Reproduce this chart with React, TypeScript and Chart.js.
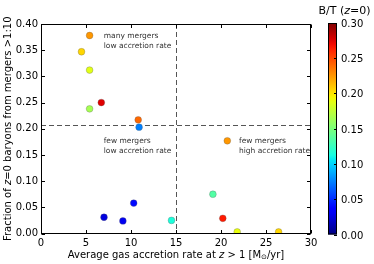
import { useEffect, useRef } from "react";
import { Chart, registerables } from "chart.js";

Chart.register(...registerables);

// ---- data ----
const accretionRate = [5.4, 4.5, 5.4, 6.7, 5.4, 10.8, 10.9, 7.0, 9.1, 10.3, 14.5, 20.7, 19.1, 20.2, 21.8, 26.4];
const mergerFraction = [0.378, 0.347, 0.312, 0.25, 0.238, 0.217, 0.203, 0.031, 0.024, 0.058, 0.025, 0.177, 0.075, 0.029, 0.003, 0.003];
const bulgeToTotal = [0.225, 0.205, 0.187, 0.275, 0.165, 0.24, 0.075, 0.025, 0.03, 0.04, 0.115, 0.225, 0.135, 0.265, 0.19, 0.205];

const xTicks = [0, 5, 10, 15, 20, 25, 30];
const yTicks = [0, 0.05, 0.1, 0.15, 0.2, 0.25, 0.3, 0.35, 0.4];
const cbarTicks = [0, 0.05, 0.1, 0.15, 0.2, 0.25, 0.3];
const cbarMax = 0.3;
const splitAccretion = 15;
const splitMerger = 0.207;

const annotationX = [6.97, 6.97, 22.0];
const annotationY = [0.377, 0.176, 0.176];
const annotationLines = [
  ["many mergers", "low accretion rate"],
  ["few mergers", "low accretion rate"],
  ["few mergers", "high accretion rate"],
];

// ---- jet colormap ----
const JR = [[0, 0], [0.35, 0], [0.66, 1], [0.89, 1], [1, 0.5]];
const JG = [[0, 0], [0.125, 0], [0.375, 1], [0.64, 1], [0.91, 0], [1, 0]];
const JB = [[0, 0.5], [0.11, 1], [0.34, 1], [0.65, 0], [1, 0]];
function interp(pts: number[][], t: number) {
  for (let i = 1; i < pts.length; i++) {
    if (t <= pts[i][0]) {
      const [x0, y0] = pts[i - 1];
      const [x1, y1] = pts[i];
      return y0 + ((t - x0) / (x1 - x0)) * (y1 - y0);
    }
  }
  return pts[pts.length - 1][1];
}
function jet(t: number) {
  const c = Math.max(0, Math.min(1, t));
  const r = Math.round(255 * interp(JR, c));
  const g = Math.round(255 * interp(JG, c));
  const b = Math.round(255 * interp(JB, c));
  return `rgb(${r},${g},${b})`;
}

const FONT = "'DejaVu Sans', sans-serif";

type Part = { t: string; italic?: boolean; sub?: boolean };
function drawRich(ctx: CanvasRenderingContext2D, parts: Part[], size: number, x: number, y: number) {
  const fontOf = (p: Part) => `${p.italic ? "italic " : ""}${p.sub ? size * 0.7 : size}px ${FONT}`;
  let total = 0;
  const widths = parts.map((p) => {
    ctx.font = fontOf(p);
    const w = ctx.measureText(p.t).width;
    total += w;
    return w;
  });
  let cx = x - total / 2;
  ctx.textAlign = "left";
  ctx.textBaseline = "middle";
  parts.forEach((p, i) => {
    ctx.font = fontOf(p);
    ctx.fillText(p.t, cx, p.sub ? y + size * 0.25 : y);
    cx += widths[i];
  });
}

const decorPlugin = {
  id: "decor",
  beforeDatasetsDraw(chart: any) {
    const { ctx, chartArea: a, scales } = chart;
    const xs = scales.x, ys = scales.y;
    ctx.save();
    ctx.strokeStyle = "#555";
    ctx.lineWidth = 1;
    ctx.setLineDash([5, 3]);
    const vx = Math.round(xs.getPixelForValue(splitAccretion)) + 0.5;
    const hy = Math.round(ys.getPixelForValue(splitMerger)) + 0.5;
    ctx.beginPath();
    ctx.moveTo(vx, a.top);
    ctx.lineTo(vx, a.bottom);
    ctx.moveTo(a.left, hy);
    ctx.lineTo(a.right, hy);
    ctx.stroke();
    ctx.setLineDash([]);
    // annotations
    ctx.fillStyle = "#333";
    ctx.font = `7.5px ${FONT}`;
    ctx.textAlign = "left";
    ctx.textBaseline = "middle";
    annotationLines.forEach((lines, i) => {
      const px = xs.getPixelForValue(annotationX[i]);
      const py = ys.getPixelForValue(annotationY[i]);
      lines.forEach((l, j) => ctx.fillText(l, px, py + j * 10));
    });
    ctx.restore();
  },
  afterDraw(chart: any) {
    const { ctx, chartArea: a, scales } = chart;
    const xs = scales.x, ys = scales.y;
    const L = Math.round(a.left) + 0.5, R = Math.round(a.right) - 0.5;
    const T = Math.round(a.top) + 0.5, B = Math.round(a.bottom) - 0.5;
    ctx.save();
    ctx.strokeStyle = "#000";
    ctx.lineWidth = 1;
    ctx.strokeRect(L, T, R - L, B - T);
    const tl = 3.5;
    ctx.beginPath();
    xTicks.forEach((v) => {
      const px = Math.round(xs.getPixelForValue(v)) + 0.5;
      ctx.moveTo(px, B); ctx.lineTo(px, B - tl);
      ctx.moveTo(px, T); ctx.lineTo(px, T + tl);
    });
    yTicks.forEach((v) => {
      const py = Math.round(ys.getPixelForValue(v)) + 0.5;
      ctx.moveTo(L, py); ctx.lineTo(L + tl, py);
      ctx.moveTo(R, py); ctx.lineTo(R - tl, py);
    });
    ctx.stroke();

    // axis titles
    ctx.fillStyle = "#000";
    drawRich(ctx, [
      { t: "Average gas accretion rate at " },
      { t: "z", italic: true },
      { t: " > 1 [M" },
      { t: "⊙", sub: true },
      { t: "/yr]" },
    ], 10, (a.left + a.right) / 2, 255);
    ctx.save();
    ctx.translate(8, (a.top + a.bottom) / 2);
    ctx.rotate(-Math.PI / 2);
    drawRich(ctx, [
      { t: "Fraction of " },
      { t: "z", italic: true },
      { t: "=0 baryons from mergers >1:10" },
    ], 10, 0, 0);
    ctx.restore();

    // colorbar
    const cx0 = 328, cx1 = 337;
    const cT = a.top - 1, cB = a.bottom + 1;
    const grad = ctx.createLinearGradient(0, cB, 0, cT);
    for (let i = 0; i <= 40; i++) grad.addColorStop(i / 40, jet(i / 40));
    ctx.fillStyle = grad;
    ctx.fillRect(cx0, cT, cx1 - cx0, cB - cT);
    ctx.strokeStyle = "#000";
    ctx.strokeRect(cx0 + 0.5, cT + 0.5, cx1 - cx0 - 1, cB - cT - 1);
    ctx.font = `10px ${FONT}`;
    ctx.fillStyle = "#000";
    ctx.textAlign = "left";
    ctx.textBaseline = "middle";
    ctx.beginPath();
    cbarTicks.forEach((v) => {
      const py = Math.round(cB - (v / cbarMax) * (cB - cT)) + 0.5;
      ctx.moveTo(cx1, py); ctx.lineTo(cx1 - 3, py);
      ctx.fillText(v.toFixed(2), 341, py + 0.5);
    });
    ctx.stroke();
    drawRich(ctx, [
      { t: "B/T (" },
      { t: "z", italic: true },
      { t: "=0)" },
    ], 11, 344.5, 11);
    ctx.restore();
  },
};

export default function App() {
  const ref = useRef<HTMLCanvasElement>(null);
  useEffect(() => {
    if (!ref.current) return;
    const chart = new Chart(ref.current, {
      type: "scatter",
      data: {
        datasets: [
          {
            data: accretionRate.map((x, i) => ({ x, y: mergerFraction[i] })),
            pointRadius: 3.4,
            pointBackgroundColor: bulgeToTotal.map((b) => jet(b / cbarMax)),
            pointBorderColor: "rgba(90,90,90,0.6)",
            pointBorderWidth: 0.5,
            clip: 0,
          } as any,
        ],
      },
      options: {
        animation: false,
        responsive: false,
        events: [],
        layout: { padding: { top: 24, right: 63, left: 0, bottom: 0 } },
        plugins: { legend: { display: false }, tooltip: { enabled: false } },
        scales: {
          x: {
            type: "linear",
            min: 0,
            max: 30,
            grid: { display: false, drawTicks: false },
            border: { display: false },
            ticks: { font: { family: FONT, size: 10 }, color: "#000", padding: 4, maxRotation: 0 },
            afterBuildTicks: (s: any) => { s.ticks = xTicks.map((v) => ({ value: v })); },
            afterFit: (s: any) => { s.height = 30.5; },
          },
          y: {
            type: "linear",
            min: 0,
            max: 0.4,
            grid: { display: false, drawTicks: false },
            border: { display: false },
            ticks: {
              font: { family: FONT, size: 10 },
              color: "#000",
              padding: 3,
              callback: (v: any) => Number(v).toFixed(2),
            },
            afterBuildTicks: (s: any) => { s.ticks = yTicks.map((v) => ({ value: v })); },
            afterFit: (s: any) => { s.width = 41; },
          },
        },
      },
      plugins: [decorPlugin],
    });
    return () => chart.destroy();
  }, []);
  return (
    <div style={{ position: "absolute", left: 0, top: 0, width: 374, height: 264, background: "#fff" }}>
      <canvas ref={ref} width={374} height={264} style={{ display: "block" }} />
    </div>
  );
}
